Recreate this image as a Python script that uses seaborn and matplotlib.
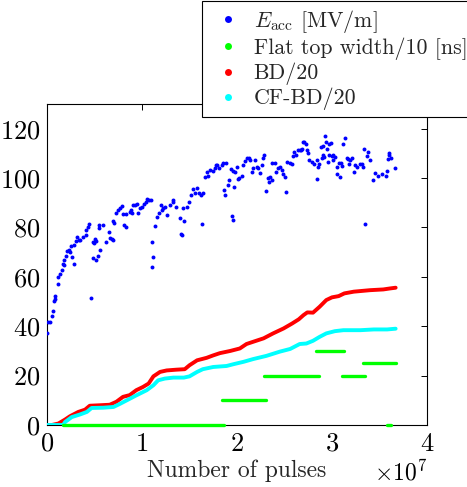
import matplotlib
matplotlib.use("Agg")
import matplotlib.pyplot as plt
from matplotlib.lines import Line2D
import seaborn as sns
import pandas as pd
import numpy as np

# ---------------- data (x in units of 1e7 pulses) ----------------
eacc_x = [0.003, 0.01, 0.03, 0.05, 0.06, 0.07, 0.08, 0.085, 0.12, 0.12, 0.14, 0.16, 0.17, 0.175,
          0.18, 0.20, 0.21, 0.23, 0.24, 0.25, 0.26, 0.28, 0.28, 0.30, 0.32, 0.34, 0.35, 0.38,
          0.41, 0.41, 0.43, 0.44, 0.46, 0.48, 0.49, 0.48, 0.52, 0.54, 0.50, 0.52, 0.56, 0.55,
          0.59, 0.55, 0.62, 0.65, 0.66, 0.68, 0.69, 0.70, 0.71, 0.73, 0.75, 0.77, 0.79, 0.81,
          0.83, 0.80, 0.83, 0.87, 0.88,
          0.891, 0.909, 0.926, 0.944, 0.961, 0.979, 0.996, 1.021, 1.042, 1.056, 1.077, 1.091,
          1.102, 1.119, 1.109, 1.137, 1.161, 1.182, 1.196, 1.214, 1.225, 1.242, 1.267, 1.295,
          1.323, 1.330, 1.358, 1.400, 1.442, 1.407, 1.425, 1.428, 1.477, 1.498, 1.516, 1.533,
          1.558, 1.575, 1.600, 1.618, 1.639, 1.628, 1.663, 1.688, 1.716, 1.744, 1.768, 1.793,
          1.698,
          1.779, 1.811, 1.839, 1.856, 1.884, 1.867, 1.874, 1.902, 1.919, 1.937, 1.961, 1.944,
          1.961, 1.972, 1.979, 1.996, 2.007, 2.025, 2.049, 2.067, 2.084, 2.102, 2.126, 2.137,
          2.154, 2.172, 2.189, 2.207, 2.225, 2.242, 2.260, 2.277, 2.288, 2.302, 2.323, 2.347,
          2.340, 2.372, 2.372, 2.400, 2.410, 2.435, 2.453, 2.470, 2.488, 2.505, 2.516, 2.530,
          2.558, 2.575, 2.593, 2.603, 2.617, 2.638, 2.663, 2.688, 2.709,
          2.674, 2.698, 2.726, 2.740, 2.751, 2.762, 2.786, 2.811, 2.839, 2.856, 2.867, 2.846,
          2.881, 2.909, 2.926, 2.937, 2.951, 2.891, 2.909, 2.916, 2.972, 2.986, 2.961, 2.972,
          2.996, 3.014, 3.032, 3.007, 3.056, 3.077, 3.091, 3.102, 3.056, 3.084, 3.119, 3.137,
          3.154, 3.172, 3.189, 3.207, 3.182, 3.232, 3.242, 3.267, 3.295, 3.319, 3.330, 3.337,
          3.365, 3.375, 3.400, 3.347, 3.428, 3.453, 3.488, 3.523, 3.565, 3.582, 3.593, 3.604,
          3.604, 3.618, 3.663]
eacc_y = [37.4, 41.8, 41.8, 44.1, 46.3, 50.3, 52.3, 51.2, 57.2, 59.9, 61.2, 62.7, 65.3, 65.0,
          66.9, 68.5, 70.5, 70.8, 70.2, 72.3, 67.9, 65.2, 73.0, 74.6, 76.0, 74.8, 75.0, 76.2,
          77.0, 79.0, 80.0, 81.3, 51.6, 74.0, 73.8, 67.7, 67.0, 68.5, 75.2, 74.5, 71.0, 81.0,
          81.0, 79.6, 74.0, 78.0, 75.6, 75.3, 75.0, 82.5, 81.8, 86.0, 87.0, 88.0, 88.7, 81.0,
          80.3, 85.3, 85.3, 86.3, 87.0,
          85.7, 89.1, 89.1, 89.7, 85.7, 87.7, 88.4, 89.7, 90.4, 91.7, 91.3, 91.1,
          74.2, 67.9, 64.1, 80.6, 84.3, 86.0, 89.1, 87.0, 87.7, 88.4, 85.0, 89.1,
          90.4, 91.1, 88.4, 83.7, 82.6, 77.2, 77.0, 87.7, 88.4, 90.4, 93.1, 95.4,
          93.8, 95.8, 93.8, 93.1, 94.1, 81.2, 100.5, 102.3, 103.2, 102.8, 103.9, 105.2,
          100.8,
          105.3, 103.9, 105.3, 106.0, 106.0, 95.1, 93.1, 97.2, 99.2, 103.5, 102.8, 84.7,
          83.0, 96.5, 102.6, 104.6, 99.6, 99.9, 100.9, 105.3, 106.9, 108.0, 108.2, 107.3,
          102.6, 103.9, 107.3, 104.6, 103.9, 101.9, 105.3, 108.0, 109.3, 94.7, 100.1, 100.5,
          98.5, 99.2, 106.3, 106.3, 102.6, 103.9, 104.6, 103.2, 101.5, 100.5, 94.5, 106.6,
          106.3, 105.5, 109.0, 110.7, 109.3, 111.3, 111.3, 111.7, 114.7,
          111.3, 114.7, 114.0, 111.3, 110.0, 107.3, 106.6, 105.9, 107.3, 104.6, 105.9, 99.6,
          112.4, 112.9, 116.9, 114.7, 111.6, 108.0, 109.3, 108.6, 113.8, 114.3, 106.6, 109.3,
          108.9, 109.3, 108.6, 107.3, 104.6, 106.2, 106.2, 104.9, 101.6, 100.6, 113.8, 116.1,
          108.0, 107.6, 107.3, 108.0, 105.9, 102.3, 105.2, 104.6, 105.9, 105.9, 104.6, 111.6,
          108.9, 110.7, 107.3, 81.4, 99.2, 101.9, 100.9, 101.5, 100.9, 102.8, 107.6, 110.3,
          109.3, 108.3, 104.1]

bd_x = [0.0, 0.05, 0.12, 0.19, 0.24, 0.33, 0.40, 0.45, 0.56, 0.66, 0.73, 0.80, 0.87, 0.94,
        1.01, 1.07, 1.12, 1.19, 1.26, 1.36, 1.45, 1.50, 1.58, 1.68, 1.75, 1.82, 1.93, 2.03,
        2.10, 2.17, 2.28, 2.38, 2.49, 2.58, 2.65, 2.70, 2.74, 2.80, 2.87, 2.94, 3.00, 3.07,
        3.13, 3.23, 3.40, 3.54, 3.61, 3.67]
bd_y = [0.0, 0.0, 0.6, 2.2, 3.5, 5.3, 6.2, 7.8, 8.0, 8.2, 9.4, 11.4, 12.1, 14.1,
        15.4, 16.8, 19.7, 21.5, 22.1, 22.4, 22.6, 24.2, 26.2, 27.2, 28.2, 29.1, 30.0, 31.0,
        32.8, 33.7, 35.1, 37.1, 39.1, 41.1, 42.8, 44.5, 45.6, 45.5, 47.9, 50.6, 51.7, 52.2,
        53.3, 54.0, 54.6, 54.9, 55.3, 55.6]

cfbd_x = [0.0, 0.10, 0.17, 0.19, 0.26, 0.35, 0.42, 0.47, 0.59, 0.70, 0.77, 0.84, 0.94, 1.05,
          1.12, 1.17, 1.24, 1.33, 1.44, 1.50, 1.58, 1.64, 1.75, 1.89, 1.96, 2.07, 2.17, 2.31,
          2.45, 2.56, 2.66, 2.73, 2.80, 2.87, 2.94, 3.03, 3.12, 3.30, 3.44, 3.58, 3.67]
cfbd_y = [0.0, 0.0, 0.0, 1.2, 3.2, 4.3, 5.3, 6.9, 7.0, 7.3, 8.6, 10.0, 12.0, 14.1,
          16.1, 18.1, 18.8, 19.2, 19.2, 19.7, 21.5, 22.6, 23.5, 23.9, 24.6, 25.6, 26.7, 28.0,
          29.7, 30.8, 32.8, 33.0, 34.1, 35.7, 37.1, 38.0, 38.4, 38.4, 38.7, 38.7, 39.0]

# flat top width/10: horizontal segments (start, end, level)
ft_start = [0.17, 1.84, 2.28, 2.83, 3.11, 3.33, 3.58]
ft_end   = [1.86, 2.30, 2.86, 3.13, 3.35, 3.67, 3.62]
ft_level = [0.0, 10.0, 20.0, 30.0, 20.0, 25.0, 0.0]

legend_labels = [r"$E_\mathrm{acc}$ [MV/m]", "Flat top width/10 [ns]", "BD/20", "CF-BD/20"]
xticks = [0, 1, 2, 3, 4]
yticks = [0, 20, 40, 60, 80, 100, 120]

SCALE = 1e7
BLUE, GREEN, RED, CYAN = "#0000ff", "#00ff00", "#ff0000", "#00ffff"
TICK_FS = 19
LABEL_FS = 17
LEG_FS = 15.8

# ---------------- style ----------------
sns.set_style("white")
plt.rcParams.update({
    "font.family": ["cmr10", "DejaVu Serif"],
    "mathtext.fontset": "cm",
    "axes.formatter.use_mathtext": True,
    "axes.unicode_minus": False,
    "font.size": TICK_FS,
    "axes.edgecolor": "black",
    "axes.linewidth": 0.8,
})

df_e = pd.DataFrame({"x": np.array(eacc_x) * SCALE, "y": eacc_y})
df_bd = pd.DataFrame({"x": np.array(bd_x) * SCALE, "y": bd_y})
df_cf = pd.DataFrame({"x": np.array(cfbd_x) * SCALE, "y": cfbd_y})
seg_rows = []
for i, (a, b, lv) in enumerate(zip(ft_start, ft_end, ft_level)):
    seg_rows.append({"x": a * SCALE, "y": lv, "seg": i})
    seg_rows.append({"x": b * SCALE, "y": lv, "seg": i})
df_ft = pd.DataFrame(seg_rows)

fig = plt.figure(figsize=(4.67, 4.87), dpi=100)
ax = fig.add_axes([47 / 467, 62 / 487, 380 / 467, 321 / 487])

sns.lineplot(data=df_bd, x="x", y="y", ax=ax, color=RED, linewidth=2.8,
             estimator=None, sort=False, solid_capstyle="round", zorder=3)
sns.lineplot(data=df_cf, x="x", y="y", ax=ax, color=CYAN, linewidth=2.8,
             estimator=None, sort=False, solid_capstyle="round", zorder=3)
sns.lineplot(data=df_ft, x="x", y="y", units="seg", ax=ax, color=GREEN, linewidth=2.4,
             estimator=None, sort=False, zorder=5, clip_on=False)
sns.scatterplot(data=df_e, x="x", y="y", ax=ax, color=BLUE, s=8, linewidth=0, zorder=4)

ax.set_xlim(0, 4 * SCALE)
ax.set_ylim(0, 130)
ax.set_xticks([t * SCALE for t in xticks])
ax.set_yticks(yticks)
ax.set_xlabel("Number of pulses", fontsize=LABEL_FS, labelpad=3)
ax.set_ylabel("")
ax.tick_params(direction="in", length=4, width=0.7, top=True, right=True,
               labelsize=TICK_FS, pad=5, colors="black")
for sp in ax.spines.values():
    sp.set_visible(True)
    sp.set_color("black")
    sp.set_linewidth(0.8)
ax.xaxis.get_offset_text().set_fontsize(LABEL_FS)

handles = [Line2D([], [], ls="", marker="o", color=c, markersize=5, markeredgewidth=0)
           for c in (BLUE, GREEN, RED, CYAN)]
leg = ax.legend(handles, legend_labels, loc="lower right",
                bbox_to_anchor=(474 / 467, (487 - 117) / 487), bbox_transform=fig.transFigure,
                borderaxespad=0, frameon=True, fancybox=False, framealpha=1,
                edgecolor="black", fontsize=LEG_FS, handlelength=1.8, handletextpad=0.25,
                borderpad=0.3, labelspacing=0.12)
leg.get_frame().set_linewidth(0.8)
leg.set_zorder(10)

fig.savefig("out.png", dpi=100)
